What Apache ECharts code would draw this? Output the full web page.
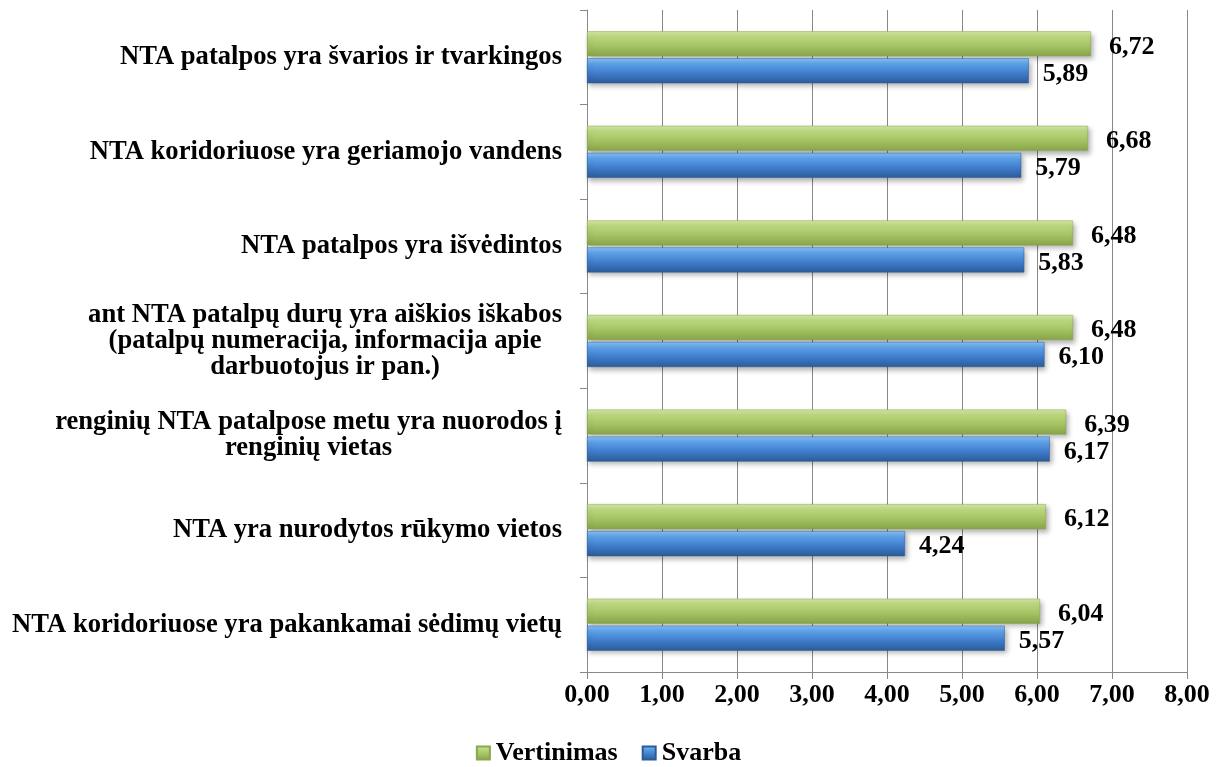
<!DOCTYPE html>
<html>
<head>
<meta charset="utf-8">
<script src="https://cdn.jsdelivr.net/npm/echarts@6/dist/echarts.min.js"></script>
<style>html,body{margin:0;padding:0;background:#fff;}#c{width:1217px;height:767px;}</style>
</head>
<body>
<div id="c"></div>
<script>
const categories = [
  "NTA patalpos yra švarios ir tvarkingos",
  "NTA koridoriuose yra geriamojo vandens",
  "NTA patalpos yra išvėdintos",
  "ant NTA patalpų durų yra aiškios iškabos\n(patalpų numeracija, informacija apie\ndarbuotojus ir pan.)",
  "renginių NTA patalpose metu yra nuorodos į\nrenginių vietas",
  "NTA yra nurodytos rūkymo vietos",
  "NTA koridoriuose yra pakankamai sėdimų vietų"
];
const vertinimas = [6.72, 6.68, 6.48, 6.48, 6.39, 6.12, 6.04];
const svarba = [5.89, 5.79, 5.83, 6.10, 6.17, 4.24, 5.57];
const xTicks = [0, 1, 2, 3, 4, 5, 6, 7, 8];

const FONT = '"Liberation Serif", "Times New Roman", serif';
const fmt = v => Number(v).toFixed(2).replace('.', ',');

const green = new echarts.graphic.LinearGradient(0, 0, 0, 1, [
  {offset: 0, color: '#d4e8a3'},
  {offset: 0.25, color: '#b9d67c'},
  {offset: 0.6, color: '#a3c262'},
  {offset: 1, color: '#87a449'}
]);
const blue = new echarts.graphic.LinearGradient(0, 0, 0, 1, [
  {offset: 0, color: '#86c2f7'},
  {offset: 0.25, color: '#5a9ee6'},
  {offset: 0.6, color: '#3f7ccb'},
  {offset: 1, color: '#2c5b98'}
]);

const chart = echarts.init(document.getElementById('c'));
chart.setOption({
  backgroundColor: '#fff',
  animation: false,
  grid: {left: 587, right: 30, top: 10, bottom: 95, containLabel: false},
  legend: {
    top: 735, left: 'center',
    data: ['Vertinimas', 'Svarba'],
    itemWidth: 13, itemHeight: 13, itemGap: 24,
    icon: 'rect',
    textStyle: {fontFamily: FONT, fontWeight: 'bold', fontSize: 26, color: '#000', padding: [0,0,0,1]}
  },
  xAxis: {
    type: 'value', min: 0, max: 8, interval: 1,
    axisLine: {show: true, lineStyle: {color: '#888', width: 1}},
    axisTick: {show: true, length: 7, lineStyle: {color: '#888'}},
    splitLine: {show: true, lineStyle: {color: '#888', width: 1}},
    axisLabel: {
      margin: 10, color: '#000', fontFamily: FONT, fontWeight: 'bold', fontSize: 26,
      formatter: v => fmt(v)
    }
  },
  yAxis: {
    type: 'category', inverse: true, data: categories,
    axisLine: {show: true, lineStyle: {color: '#888', width: 1}},
    axisTick: {show: true, length: 7, lineStyle: {color: '#888'}},
    axisLabel: {
      margin: 25, color: '#000', fontFamily: FONT, fontWeight: 'bold', fontSize: 26.6,
      lineHeight: 26,
      formatter: v => v.split('\n').map(l => '{c|' + l + '}').join('\n'),
      rich: {c: {align: 'center', fontFamily: FONT, fontWeight: 'bold', fontSize: 26.6, lineHeight: 26, color: '#000'}}
    }
  },
  series: [
    {
      name: 'Vertinimas', type: 'bar', data: vertinimas,
      barWidth: 25, barGap: '8%',
      itemStyle: {color: green, borderColor: '#8aa64e', borderWidth: 0.5,
        shadowColor: 'rgba(0,0,0,0.3)', shadowBlur: 5, shadowOffsetX: 2, shadowOffsetY: 3},
      label: {show: true, position: 'right', distance: 18, offset: [0, 3],
        color: '#000', fontFamily: FONT, fontWeight: 'bold', fontSize: 26, formatter: p => fmt(p.value)}
    },
    {
      name: 'Svarba', type: 'bar', data: svarba,
      barWidth: 25, barGap: '8%',
      itemStyle: {color: blue, borderColor: '#2d5b96', borderWidth: 0.5,
        shadowColor: 'rgba(0,0,0,0.3)', shadowBlur: 5, shadowOffsetX: 2, shadowOffsetY: 3},
      label: {show: true, position: 'right', distance: 14, offset: [0, 3],
        color: '#000', fontFamily: FONT, fontWeight: 'bold', fontSize: 26, formatter: p => fmt(p.value)}
    }
  ]
});
</script>
</body>
</html>
